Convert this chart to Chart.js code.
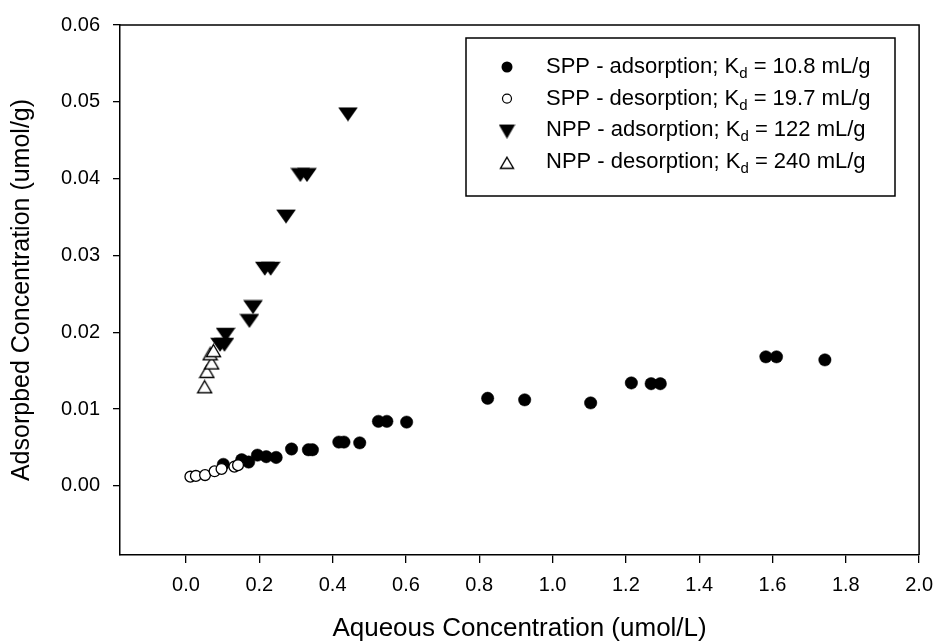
<!DOCTYPE html>
<html>
<head>
<meta charset="utf-8">
<script src="https://cdn.jsdelivr.net/npm/chart.js@4.4.1/dist/chart.umd.min.js"></script>
<style>
  html, body { margin: 0; padding: 0; background: #fff; }
  #wrap { width: 943px; height: 641px; }
</style>
</head>
<body>
<div id="wrap"><canvas id="sorption"></canvas></div>
<script>
// Sorption isotherm data
const sppAdsX = [0.102, 0.152, 0.171, 0.195, 0.219, 0.246, 0.288, 0.334, 0.345, 0.417, 0.431, 0.474,
                 0.525, 0.548, 0.602, 0.823, 0.924, 1.104, 1.215, 1.269, 1.294, 1.582, 1.611, 1.743];
const sppAdsY = [0.0028, 0.0034, 0.0031, 0.0040, 0.0038, 0.0037, 0.0048, 0.0047, 0.0047, 0.0057, 0.0057, 0.0056,
                 0.0084, 0.0084, 0.0083, 0.0114, 0.0112, 0.0108, 0.0134, 0.0133, 0.0133, 0.0168, 0.0168, 0.0164];
const sppDesX = [0.012, 0.027, 0.052, 0.078, 0.097, 0.132, 0.142];
const sppDesY = [0.0012, 0.0013, 0.0014, 0.0019, 0.0022, 0.0025, 0.0027];
const nppAdsX = [0.093, 0.105, 0.108, 0.173, 0.183, 0.215, 0.231, 0.273, 0.312, 0.330, 0.442];
const nppAdsY = [0.0184, 0.0184, 0.0197, 0.0215, 0.0233, 0.0283, 0.0283, 0.0351, 0.0405, 0.0405, 0.0484];
const nppDesX = [0.051, 0.057, 0.070, 0.066, 0.075];
const nppDesY = [0.0129, 0.0149, 0.0160, 0.0172, 0.0176];

const seriesNames = ['SPP - adsorption', 'SPP - desorption', 'NPP - adsorption', 'NPP - desorption'];
const kdValues = ['10.8', '19.7', '122', '240'];

const xTickValues = [0.0, 0.2, 0.4, 0.6, 0.8, 1.0, 1.2, 1.4, 1.6, 1.8, 2.0];
const yTickValues = [0.00, 0.01, 0.02, 0.03, 0.04, 0.05, 0.06];

const FONT = '"Liberation Sans", Arial, Helvetica, sans-serif';

function pairs(xs, ys) {
    return xs.map((x, i) => ({ x: x, y: ys[i] }));
}

// small canvas used as a point style for the triangles
function makeTriangle(w, h, down, filled) {
    const c = document.createElement('canvas');
    c.width = w + 3;
    c.height = h + 3;
    const g = c.getContext('2d');
    const x0 = 1.5, y0 = 1.5;
    g.beginPath();
    if (down) {
        g.moveTo(x0, y0);
        g.lineTo(x0 + w, y0);
        g.lineTo(x0 + w / 2, y0 + h);
    } else {
        g.moveTo(x0 + w / 2, y0);
        g.lineTo(x0 + w, y0 + h);
        g.lineTo(x0, y0 + h);
    }
    g.closePath();
    g.fillStyle = filled ? '#000' : '#fff';
    g.fill();
    g.lineWidth = 1.4;
    g.strokeStyle = '#000';
    g.stroke();
    return c;
}

const downTri = makeTriangle(17, 12, true, true);
const upTri = makeTriangle(14, 12, false, false);
const downTriSmall = makeTriangle(14, 12, true, true);
const upTriSmall = makeTriangle(13, 11, false, false);

// legend with subscripted K_d, drawn on the canvas
const legendBox = {
    id: 'legendBox',
    afterDatasetsDraw(chart) {
        const ctx = chart.ctx;
        const left = 466, top = 38, right = 895, bottom = 196;
        ctx.save();
        ctx.fillStyle = '#fff';
        ctx.fillRect(left, top, right - left, bottom - top);
        ctx.lineWidth = 1.5;
        ctx.strokeStyle = '#000';
        ctx.strokeRect(left, top, right - left, bottom - top);

        const markerX = 507, textX = 546, rowY0 = 67, rowStep = 31.6;
        seriesNames.forEach((name, i) => {
            const y = rowY0 + i * rowStep;
            ctx.fillStyle = '#000';
            ctx.strokeStyle = '#000';
            ctx.lineWidth = 1.2;
            if (i === 0) {
                ctx.beginPath(); ctx.arc(markerX, y, 5.5, 0, Math.PI * 2); ctx.fill();
            } else if (i === 1) {
                ctx.beginPath(); ctx.arc(markerX, y, 4.5, 0, Math.PI * 2);
                ctx.fillStyle = '#fff'; ctx.fill(); ctx.stroke();
            } else {
                const img = i === 2 ? downTriSmall : upTriSmall;
                ctx.drawImage(img, markerX - img.width / 2, y - img.height / 2 + 1);
            }

            ctx.fillStyle = '#000';
            ctx.textBaseline = 'middle';
            ctx.textAlign = 'left';
            ctx.font = '22px ' + FONT;
            const main = name + '; K';
            ctx.fillText(main, textX, y);
            let x = textX + ctx.measureText(main).width;
            ctx.font = '15px ' + FONT;
            ctx.fillText('d', x, y + 7);
            x += ctx.measureText('d').width;
            ctx.font = '22px ' + FONT;
            ctx.fillText(' = ' + kdValues[i] + ' mL/g', x, y);
        });
        ctx.restore();
    }
};

// closes the frame on the top and right sides
const frame = {
    id: 'frame',
    beforeDatasetsDraw(chart) {
        const { left, top, right, bottom } = chart.chartArea;
        const ctx = chart.ctx;
        ctx.save();
        ctx.lineWidth = 1.5;
        ctx.strokeStyle = '#000';
        ctx.beginPath();
        ctx.moveTo(left, top);
        ctx.lineTo(right, top);
        ctx.lineTo(right, bottom);
        ctx.stroke();
        ctx.restore();
    }
};

const datasets = [
    { label: seriesNames[0], data: pairs(sppAdsX, sppAdsY), order: 4,
      pointStyle: 'circle', pointRadius: 6.2, pointBackgroundColor: '#000', pointBorderColor: '#000', pointBorderWidth: 0.5 },
    { label: seriesNames[1], data: pairs(sppDesX, sppDesY), order: 2,
      pointStyle: 'circle', pointRadius: 5.4, pointBackgroundColor: '#fff', pointBorderColor: '#000', pointBorderWidth: 1.3 },
    { label: seriesNames[2], data: pairs(nppAdsX, nppAdsY), order: 3,
      pointStyle: downTri, pointRadius: 6 },
    { label: seriesNames[3], data: pairs(nppDesX, nppDesY), order: 1,
      pointStyle: upTri, pointRadius: 6 }
];

new Chart(document.getElementById('sorption'), {
    type: 'scatter',
    data: { datasets: datasets },
    options: {
        responsive: true,
        maintainAspectRatio: false,
        animation: false,
        events: [],
        layout: { autoPadding: false, padding: { left: 0, top: 23, right: 17, bottom: 0 } },
        plugins: { legend: { display: false }, tooltip: { enabled: false } },
        scales: {
            x: {
                type: 'linear',
                min: -0.18,
                max: 2.0,
                afterBuildTicks: (scale) => { scale.ticks = xTickValues.map(v => ({ value: v })); },
                afterFit: (scale) => { scale.height = 86; },
                grid: { display: true, drawOnChartArea: false, drawTicks: true, tickLength: 8, color: '#000', lineWidth: 1.3 },
                border: { display: true, color: '#000', width: 1.5 },
                ticks: {
                    color: '#000', padding: 10, maxRotation: 0, autoSkip: false,
                    font: { family: FONT, size: 20 },
                    callback: (v) => Number(v).toFixed(1)
                },
                title: {
                    display: true, text: 'Aqueous Concentration (umol/L)', color: '#000',
                    font: { family: FONT, size: 26, lineHeight: 1 }, padding: { top: 0, bottom: -1 }
                }
            },
            y: {
                type: 'linear',
                min: -0.009,
                max: 0.06,
                afterBuildTicks: (scale) => { scale.ticks = yTickValues.map(v => ({ value: v })); },
                afterFit: (scale) => { scale.width = 120; },
                grid: { display: true, drawOnChartArea: false, drawTicks: true, tickLength: 7, color: '#000', lineWidth: 1.3 },
                border: { display: true, color: '#000', width: 1.5 },
                ticks: {
                    color: '#000', padding: 13, autoSkip: false,
                    font: { family: FONT, size: 20 },
                    callback: (v) => Number(v).toFixed(2)
                },
                title: {
                    display: true, text: 'Adsorpbed Concentration (umol/g)', color: '#000',
                    font: { family: FONT, size: 25, lineHeight: 1 }, padding: { top: 10, bottom: 0 }
                }
            }
        }
    },
    plugins: [frame, legendBox]
});
</script>
</body>
</html>
